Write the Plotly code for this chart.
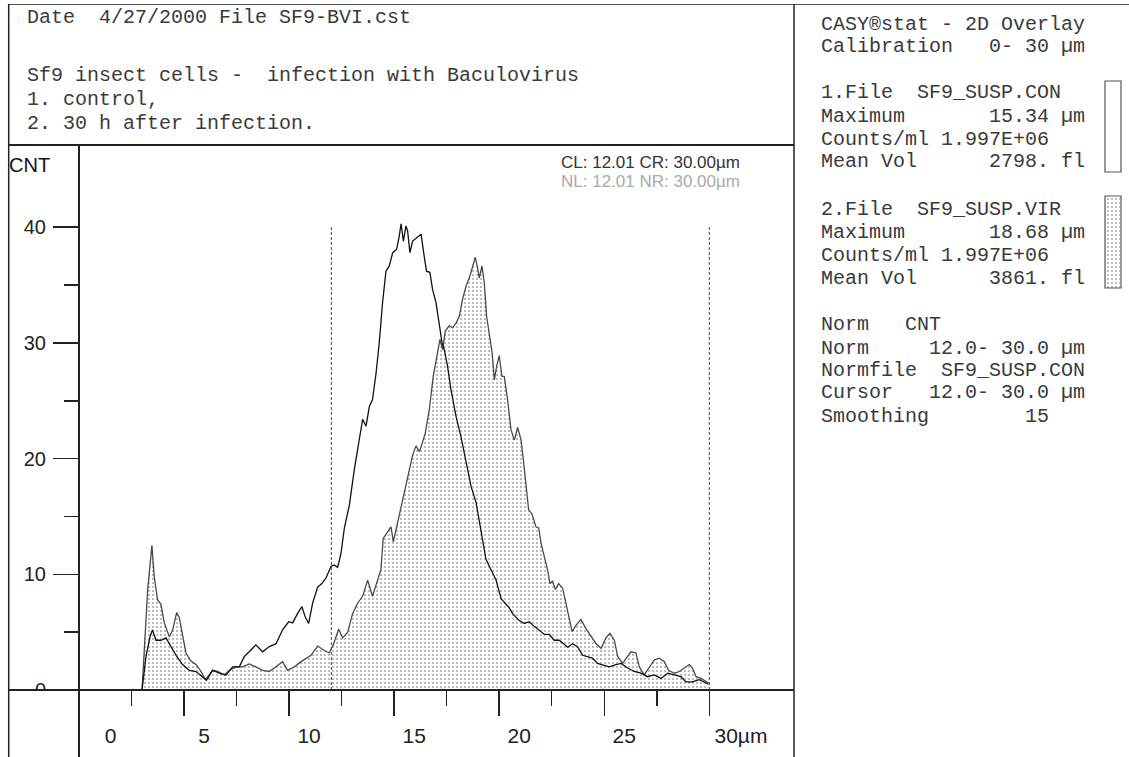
import plotly.graph_objects as go

# ---------------- data ----------------
# 2.File SF9_SUSP.VIR (30 h after infection) - dotted, filled curve
vir_x = [3.00, 3.11, 3.27, 3.47, 3.58, 3.74, 3.90, 4.06, 4.30, 4.46, 4.65, 4.77, 4.93, 5.09,
         5.33, 5.57, 5.81, 6.01, 6.20, 6.36, 6.60, 6.92, 7.15, 7.47, 7.79, 8.10, 8.42, 8.74,
         9.06, 9.38, 9.69, 9.93, 10.25, 10.57, 10.80, 11.04, 11.36, 11.60, 11.91, 12.10, 12.36,
         12.55, 12.79, 13.02, 13.26, 13.50, 13.74, 13.97, 14.21, 14.37, 14.48, 14.69, 14.85,
         14.96, 15.16, 15.40, 15.64, 15.88, 16.04, 16.20, 16.35, 16.48, 16.67, 16.86, 17.07,
         17.18, 17.31, 17.43, 17.62, 17.78, 17.94, 18.10, 18.26, 18.42, 18.61, 18.77, 18.86,
         18.97, 19.05, 19.18, 19.29, 19.40, 19.53, 19.66, 19.77, 19.88, 20.00, 20.13, 20.24,
         20.40, 20.56, 20.72, 20.88, 21.04, 21.15, 21.28, 21.40, 21.56, 21.75, 21.88, 21.99,
         22.15, 22.30, 22.42, 22.54, 22.67, 22.83, 23.02, 23.18, 23.30, 23.47, 23.66, 23.89,
         24.13, 24.37, 24.61, 24.85, 25.08, 25.27, 25.48, 25.64, 25.87, 26.11, 26.27, 26.51,
         26.67, 26.90, 27.14, 27.38, 27.62, 27.86, 28.06, 28.34, 28.57, 28.81, 29.05, 29.20,
         29.37, 29.60, 29.84, 29.97]
vir_y = [0.0, 3.5, 8.7, 12.5, 9.8, 7.8, 7.4, 5.8, 4.6, 5.2, 6.7, 6.3, 4.9, 3.2,
         2.5, 2.2, 1.6, 0.9, 1.3, 1.7, 1.6, 1.3, 1.7, 2.0, 2.0, 2.25, 2.0, 1.7,
         1.6, 2.0, 2.45, 1.7, 2.0, 2.45, 2.7, 3.0, 3.8, 3.5, 3.2, 3.9, 5.25,
         4.5, 5.0, 6.6, 7.5, 8.1, 9.5, 8.1, 9.5, 10.4, 13.1, 13.7, 14.1,
         12.8, 14.4, 16.5, 18.5, 20.3, 21.1, 20.6, 21.4, 22.2, 24.2, 27.1, 29.2,
         30.3, 29.4, 31.0, 31.5, 31.3, 31.7, 32.3, 33.8, 34.9, 35.8, 36.8, 37.4,
         36.5, 35.6, 36.65, 35.2, 32.3, 30.6, 29.2, 26.8, 28.0, 28.9, 27.1, 27.1,
         25.1, 22.5, 21.6, 22.7, 21.6, 19.9, 17.6, 15.6, 15.2, 14.1, 14.0, 12.7,
         11.5, 10.4, 9.2, 9.4, 8.7, 9.2, 8.8, 7.5, 6.3, 5.05, 5.6, 6.1,
         5.3, 4.6, 4.0, 3.6, 4.5, 4.9, 4.3, 2.9, 2.3, 2.9, 3.3, 3.2,
         2.0, 1.3, 1.9, 2.6, 2.75, 2.45, 1.7, 1.45, 1.6, 1.9, 2.2, 1.9,
         1.15, 1.0, 0.7, 0.6]

# 1.File SF9_SUSP.CON (control) - plain line
con_x = [3.00, 3.19, 3.38, 3.50, 3.66, 3.90, 4.14, 4.38, 4.62, 4.93, 5.25, 5.57, 5.88, 6.07,
         6.36, 6.68, 7.00, 7.31, 7.63, 7.87, 8.10, 8.42, 8.74, 9.06, 9.38, 9.69, 9.98, 10.17,
         10.40, 10.61, 10.77, 10.93, 11.12, 11.36, 11.56, 11.76, 12.00, 12.15, 12.31, 12.47,
         12.63, 12.87, 13.10, 13.34, 13.50, 13.66, 13.82, 13.97, 14.14, 14.29, 14.45, 14.61,
         14.77, 14.93, 15.12, 15.24, 15.33, 15.44, 15.56, 15.64, 15.75, 15.88, 16.07, 16.28,
         16.43, 16.54, 16.70, 16.83, 16.99, 17.15, 17.28, 17.39, 17.54, 17.70, 17.94, 18.18,
         18.42, 18.66, 18.90, 19.13, 19.37, 19.61, 19.85, 20.09, 20.32, 20.48, 20.64, 20.80,
         20.96, 21.19, 21.43, 21.67, 21.91, 22.15, 22.38, 22.62, 22.86, 23.10, 23.26, 23.49,
         23.73, 23.97, 24.21, 24.44, 24.68, 24.92, 25.24, 25.56, 25.80, 26.11, 26.43, 26.75,
         27.06, 27.38, 27.70, 28.02, 28.34, 28.65, 28.89, 29.20, 29.52, 29.76, 29.97]
con_y = [0.0, 2.9, 4.6, 5.2, 4.3, 4.3, 4.5, 3.75, 3.0, 2.2, 1.7, 1.6, 1.15, 0.85,
         1.7, 1.45, 1.3, 2.0, 2.0, 2.9, 3.3, 3.9, 3.3, 3.75, 4.0, 5.2, 5.9, 5.8,
         6.6, 7.2, 6.3, 5.75, 7.5, 8.9, 9.2, 9.7, 10.7, 10.8, 10.6, 11.8,
         14.0, 16.0, 19.0, 21.6, 23.4, 22.8, 24.5, 25.1, 27.4, 30.0, 33.5, 36.2,
         36.65, 37.8, 38.1, 39.2, 40.3, 38.8, 40.1, 39.7, 37.8, 38.8, 39.1, 39.4,
         37.5, 36.2, 36.1, 34.6, 33.5, 31.7, 30.0, 29.4, 28.0, 26.0, 23.7, 21.9,
         19.6, 17.6, 16.2, 13.9, 11.3, 10.4, 9.5, 7.9, 7.4, 7.1, 6.6, 6.3,
         6.0, 5.75, 5.9, 5.5, 5.15, 4.8, 4.8, 4.3, 4.3, 3.9, 3.7, 4.0,
         3.75, 3.0, 2.9, 2.75, 2.3, 2.2, 2.0, 2.2, 2.3, 1.9, 1.6, 1.45,
         1.15, 1.3, 1.0, 1.45, 1.3, 1.15, 0.7, 0.7, 0.9, 0.7, 0.5]

cursors = [12.01, 30.00]          # CL / CR (and NL / NR)
x_ticks = [0, 5, 10, 15, 20, 25, 30]
x_tick_text = ["0", "5", "10", "15", "20", "25", "30µm"]
x_minor = [2.5, 7.5, 12.5, 17.5, 22.5, 27.5]
y_ticks = [0, 10, 20, 30, 40]
y_minor = [5, 15, 25, 35]

header_lines = ["Date  4/27/2000 File SF9-BVI.cst",
                "Sf9 insect cells -  infection with Baculovirus",
                "1. control,",
                "2. 30 h after infection."]
panel_lines = ["CASY®stat - 2D Overlay",
               "Calibration   0- 30 µm",
               "1.File  SF9_SUSP.CON",
               "Maximum       15.34 µm",
               "Counts/ml 1.997E+06",
               "Mean Vol      2798. fl",
               "2.File  SF9_SUSP.VIR",
               "Maximum       18.68 µm",
               "Counts/ml 1.997E+06",
               "Mean Vol      3861. fl",
               "Norm   CNT",
               "Norm     12.0- 30.0 µm",
               "Normfile  SF9_SUSP.CON",
               "Cursor   12.0- 30.0 µm",
               "Smoothing        15"]

# ---------------- layout helpers ----------------
# body margin is removed (post_script); the captured page is squeezed
# vertically by 757/768, so the figure is laid out on a 1129x768 canvas.
REF_W, REF_H = 1129, 757
W, H = 1129, 768


def px(x):
    return x / REF_W


def py(y):
    return 1 - y / REF_H


def nb(s):
    return s.replace(" ", "\u00a0")


MONO = "Liberation Mono"
SANS = "Liberation Sans"
TXT = "#3a3a3a"
LINE = "#222222"

PLOT_L, PLOT_R, PLOT_T, PLOT_B = 79, 795, 145, 690
PX_PER_UM = 21.01
PX_PER_CNT = 11.57

pattern = dict(shape=".", fgcolor="#3a3a3a", bgcolor="white", size=4, solidity=0.16)

fig = go.Figure()
fig.add_trace(go.Scatter(x=vir_x, y=vir_y, mode="lines", name="SF9_SUSP.VIR",
                         line=dict(color="#4a4a4a", width=1.3),
                         fill="tozeroy", fillpattern=pattern, showlegend=False,
                         hoverinfo="skip"))
fig.add_trace(go.Scatter(x=con_x, y=con_y, mode="lines", name="SF9_SUSP.CON",
                         line=dict(color="#111111", width=1.3), showlegend=False,
                         hoverinfo="skip"))
# swatch for file 2 in the side panel
fig.add_trace(go.Scatter(x=[0, 1, 1, 0, 0], y=[0, 0, 1, 1, 0], mode="lines",
                         line=dict(color="rgba(0,0,0,0)", width=0),
                         fill="toself", fillpattern=pattern, showlegend=False,
                         xaxis="x2", yaxis="y2", hoverinfo="skip"))

tickfont = dict(family=SANS, size=20, color="#222222")
fig.update_layout(
    width=W, height=H,
    margin=dict(l=0, r=0, t=0, b=0),
    paper_bgcolor="white", plot_bgcolor="white",
    showlegend=False,
    xaxis=dict(domain=[px(PLOT_L), px(PLOT_R)],
               range=[0, (PLOT_R - PLOT_L) / PX_PER_UM],
               showgrid=False, zeroline=False, showline=False,
               tickmode="array", tickvals=x_ticks,
               ticktext=["\u00a0" * 4 + t if t in ("0", "30µm") else t for t in x_tick_text],
               ticks="outside", ticklen=25, tickwidth=1.5, tickcolor=LINE,
               ticklabelshift=20, ticklabelstandoff=2,
               tickfont=dict(family=SANS, size=21, color="#222222"),
               minor=dict(tickmode="array", tickvals=x_minor, ticks="outside",
                          ticklen=15, tickwidth=1.5, tickcolor=LINE),
               fixedrange=True),
    yaxis=dict(domain=[py(PLOT_B), py(PLOT_T)],
               range=[0, (PLOT_B - PLOT_T) / PX_PER_CNT],
               showgrid=False, zeroline=False, showline=False,
               tickmode="array", tickvals=y_ticks,
               ticks="outside", ticklen=25, tickwidth=1.5, tickcolor=LINE,
               ticklabelstandoff=3, tickfont=tickfont,
               minor=dict(tickmode="array", tickvals=y_minor, ticks="outside",
                          ticklen=14, tickwidth=1.5, tickcolor=LINE),
               fixedrange=True),
    xaxis2=dict(domain=[px(1106), px(1120)], range=[0, 1], visible=False,
                anchor="y2", fixedrange=True),
    yaxis2=dict(domain=[py(288), py(197)], range=[0, 1], visible=False,
                anchor="x2", fixedrange=True),
)

shapes = []


def pline(x0, y0, x1, y1, w=1.5, color=LINE):
    shapes.append(dict(type="line", xref="paper", yref="paper",
                       x0=px(x0), y0=py(y0), x1=px(x1), y1=py(y1),
                       line=dict(color=color, width=w), layer="above"))


# hide lower half of the y "0" label (as in the reference)
shapes.append(dict(type="rect", xref="paper", yref="paper",
                   x0=px(12), x1=px(76), y0=py(703), y1=py(691),
                   fillcolor="white", line=dict(width=0), layer="above"))
# frame
pline(8, 4.5, 1129, 4.5, 1.2, "#555555")
pline(8.7, 4, 8.7, 757, 1.5)
pline(794, 4, 794, 757, 1.5)
pline(8, PLOT_T, 794, PLOT_T, 2)
pline(8, PLOT_B, 794, PLOT_B, 2)
pline(PLOT_L, PLOT_T, PLOT_L, 757, 2)
# legend boxes in side panel
shapes.append(dict(type="rect", xref="paper", yref="paper",
                   x0=px(1105), x1=px(1121), y0=py(172), y1=py(81),
                   fillcolor="rgba(0,0,0,0)", line=dict(color="#555555", width=1.2),
                   layer="above"))
shapes.append(dict(type="rect", xref="paper", yref="paper",
                   x0=px(1105), x1=px(1121), y0=py(288), y1=py(196),
                   fillcolor="rgba(0,0,0,0)", line=dict(color="#555555", width=1.2),
                   layer="above"))
# cursor lines
for c in cursors:
    shapes.append(dict(type="line", xref="x", yref="y", x0=c, x1=c, y0=0, y1=40,
                       line=dict(color="#444444", width=1, dash="3px,2px"),
                       layer="above"))
fig.update_layout(shapes=shapes)

ann = []


def text(s, x, y, family=MONO, size=20, color=TXT, xanchor="left"):
    ann.append(dict(text=nb(s), x=px(x), y=py(y), xref="paper", yref="paper",
                    xanchor=xanchor, yanchor="middle", showarrow=False,
                    font=dict(family=family, size=size, color=color)))


for s, yy in zip(header_lines, [18, 75, 100, 124]):
    text(s, 25, yy)
for s, yy in zip(panel_lines, [24, 46, 93, 116, 139, 162, 209, 232, 255, 278,
                               324, 348, 371, 393, 416]):
    text(s, 819, yy)
text("CNT", 7, 165, family=SANS, size=20, color="#111111")
text("CL: %.2f CR: %.2fµm" % (cursors[0], cursors[1]), 742, 163,
     family=SANS, size=17, color="#333333", xanchor="right")
text("NL: %.2f NR: %.2fµm" % (cursors[0], cursors[1]), 742, 182,
     family=SANS, size=17, color="#aaaaaa", xanchor="right")
fig.update_layout(annotations=ann)

fig.write_html("out.html",
               config={"displayModeBar": False, "staticPlot": True},
               post_script="document.body.style.margin='0px';"
                           "document.body.style.overflow='hidden';")
